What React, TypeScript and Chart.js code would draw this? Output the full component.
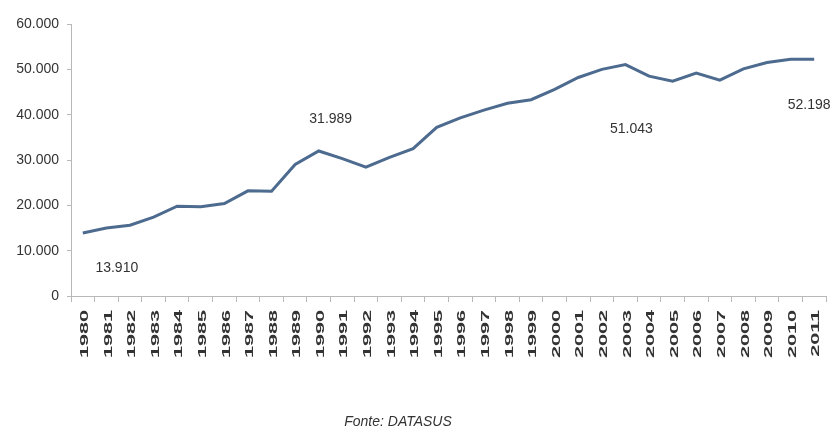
import React, { useEffect, useRef } from "react";
import { Chart, registerables } from "chart.js";

Chart.register(...registerables);

// ---- data ----
const years: string[] = [
  "1980", "1981", "1982", "1983", "1984", "1985", "1986", "1987",
  "1988", "1989", "1990", "1991", "1992", "1993", "1994", "1995",
  "1996", "1997", "1998", "1999", "2000", "2001", "2002", "2003",
  "2004", "2005", "2006", "2007", "2008", "2009", "2010", "2011",
];
const homicides: number[] = [
  13910, 15000, 15600, 17400, 19800, 19700, 20400, 23200,
  23100, 29000, 31989, 30300, 28400, 30600, 32500, 37200,
  39300, 41000, 42500, 43300, 45600, 48200, 50000, 51043,
  48500, 47400, 49200, 47600, 50100, 51500, 52200, 52198,
];
const yMin = 0;
const yMax = 60000;
const yStep = 10000;
const labelledIndices: number[] = [0, 10, 23, 31];
const sourceNote = "Fonte: DATASUS";

// ---- styles ----
const TEXT_COLOR = "#333333";
const AXIS_COLOR = "#b8b8b8";
const LINE_COLOR = "#4d6a8f";
const SANS = "'Liberation Sans', Arial, sans-serif";
const labelOffsets: [number, number][] = [[34, 35], [12, -32], [6, 65], [-5, 46]];

const fmt = (v: number) => String(Math.round(v)).replace(/\B(?=(\d{3})+(?!\d))/g, ".");

const pointLabels = {
  id: "pointLabels",
  afterDatasetsDraw(chart: any) {
    const meta = chart.getDatasetMeta(0);
    const ctx = chart.ctx;
    ctx.save();
    ctx.fillStyle = TEXT_COLOR;
    ctx.font = `14px ${SANS}`;
    ctx.textAlign = "center";
    ctx.textBaseline = "middle";
    labelledIndices.forEach((idx, k) => {
      const el = meta.data[idx];
      if (!el) return;
      const [dx, dy] = labelOffsets[k];
      ctx.fillText(fmt(homicides[idx]), el.x + dx, el.y + dy);
    });
    ctx.restore();
  },
};

const stretchedXLabels = {
  id: "stretchedXLabels",
  afterDraw(chart: any) {
    const xs = chart.scales.x;
    const ctx = chart.ctx;
    ctx.save();
    ctx.fillStyle = TEXT_COLOR;
    ctx.font = `bold 12px ${SANS}`;
    ctx.textAlign = "right";
    ctx.textBaseline = "middle";
    years.forEach((y, i) => {
      const x = xs.getPixelForTick(i);
      ctx.save();
      ctx.translate(x + 2, xs.top + 14);
      ctx.rotate(-Math.PI / 2);
      ctx.scale(1.8, 0.95);
      ctx.fillText(y, 0, 0);
      ctx.restore();
    });
    ctx.restore();
  },
};

export default function App() {
  const ref = useRef<HTMLCanvasElement | null>(null);

  useEffect(() => {
    if (!ref.current) return;
    const chart = new Chart(ref.current, {
      type: "line",
      data: {
        labels: years,
        datasets: [
          {
            data: homicides,
            borderColor: LINE_COLOR,
            borderWidth: 3,
            pointRadius: 0,
            tension: 0,
            fill: false,
          },
        ],
      },
      options: {
        animation: false,
        responsive: true,
        maintainAspectRatio: false,
        layout: { padding: { top: 24, right: 8, left: 0, bottom: 0 } },
        plugins: {
          legend: { display: false },
          tooltip: { enabled: false },
        },
        scales: {
          x: {
            type: "category",
            offset: true,
            grid: {
              display: true,
              offset: true,
              drawOnChartArea: false,
              drawTicks: true,
              tickLength: 6,
              color: AXIS_COLOR,
            },
            border: { display: true, color: AXIS_COLOR, width: 1 },
            ticks: { display: false, autoSkip: false },
            afterFit: (s: any) => {
              s.height = 144;
            },
          },
          y: {
            min: yMin,
            max: yMax,
            grid: {
              display: true,
              drawOnChartArea: false,
              drawTicks: true,
              tickLength: 4,
              color: AXIS_COLOR,
            },
            border: { display: true, color: AXIS_COLOR, width: 1 },
            ticks: {
              stepSize: yStep,
              padding: 8,
              color: TEXT_COLOR,
              font: { family: SANS, size: 14 },
              callback: (v: any) => fmt(Number(v)),
            },
            afterFit: (s: any) => {
              s.width = 71;
            },
          },
        },
      },
      plugins: [pointLabels, stretchedXLabels],
    });
    return () => chart.destroy();
  }, []);

  return (
    <div
      style={{
        position: "absolute",
        left: 0,
        top: 0,
        width: 834,
        height: 440,
        background: "#ffffff",
      }}
    >
      <canvas ref={ref} />
      <div
        style={{
          position: "absolute",
          left: 0,
          width: 796,
          top: 411,
          textAlign: "center",
          fontFamily: SANS,
          fontStyle: "italic",
          fontSize: 14,
          color: TEXT_COLOR,
          lineHeight: "20px",
        }}
      >
        {sourceNote}
      </div>
    </div>
  );
}
